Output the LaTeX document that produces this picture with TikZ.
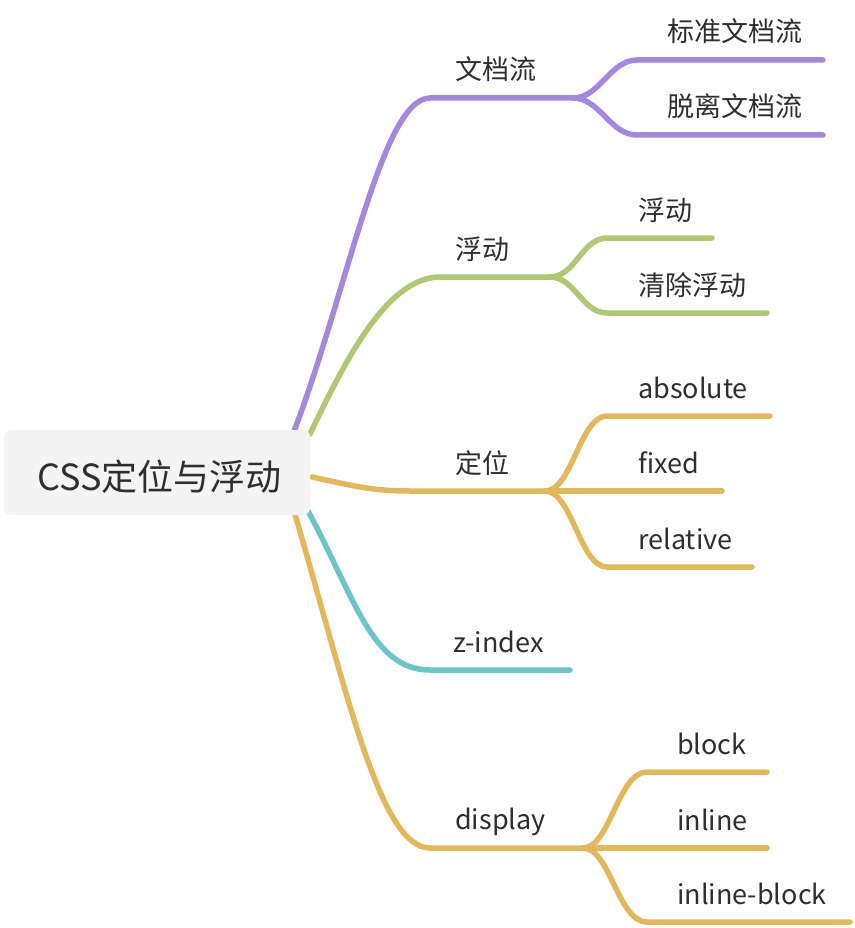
\documentclass[tikz,border=0pt]{standalone}
\usepackage{fontspec}
\setmainfont{Noto Sans CJK SC}
\definecolor{cpurple}{HTML}{A587E0}
\definecolor{cgreen}{HTML}{AEC873}
\definecolor{cgold}{HTML}{E2B85B}
\definecolor{cteal}{HTML}{6CC5C6}
\definecolor{ctext}{HTML}{2E2E2E}
\definecolor{cbox}{HTML}{F4F4F4}
\pgfdeclarelayer{background}
\pgfsetlayers{background,main}
\tikzset{
  lbl/.style={anchor=base west,inner sep=0pt,text=ctext,font=\fontsize{27}{30}\selectfont},
  br/.style={line width=5.5pt,line cap=round,line join=round},
  rootbox/.style={fill=cbox,rounded corners=7pt,inner sep=0pt,minimum width=306pt,minimum height=85pt}
}
\begin{document}
\begin{tikzpicture}[x=1pt,y=-1pt]
\useasboundingbox (0,0) rectangle (854,928);
% root
\node[rootbox] (root) at (157,472.5) {};
\node[anchor=base west,inner sep=0pt,text=ctext,font=\fontsize{36}{40}\selectfont] (roott) at (37,490) {CSS定位与浮动};
% labels
\node[lbl] (wdl) at (455,80) {文档流};
\node[lbl] (bz) at (667,42) {标准文档流};
\node[lbl] (tl) at (667,117) {脱离文档流};
\node[lbl] (fd) at (455,259) {浮动};
\node[lbl] (fd2) at (638,220) {浮动};
\node[lbl] (qc) at (638,295) {清除浮动};
\node[lbl] (dw) at (455,473) {定位};
\node[lbl] (abs) at (638,398) {absolute};
\node[lbl] (fix) at (638,473) {fixed};
\node[lbl] (rel) at (638,549) {relative};
\node[lbl] (zi) at (453,652) {z-index};
\node[lbl] (dis) at (455,829) {display};
\node[lbl] (blk) at (677,754) {block};
\node[lbl] (inl) at (677,830) {inline};
\node[lbl] (ib) at (677,904) {inline-block};
% coordinates
\coordinate (sP) at (293,434);
\coordinate (sG) at (310,434);
\coordinate (sD) at (312,477);
\coordinate (sT) at (308,511);
\coordinate (sY) at (294,511);
\coordinate (hP) at (430,98);
\coordinate (fP) at (573,98);
\coordinate (p1a) at (637,60);  \coordinate (p1b) at (823,60);
\coordinate (p2a) at (637,135); \coordinate (p2b) at (823,135);
\coordinate (hG) at (440,277);
\coordinate (fG) at (550,277);
\coordinate (g1a) at (607,238); \coordinate (g1b) at (712,238);
\coordinate (g2a) at (607,313); \coordinate (g2b) at (767,313);
\coordinate (hD) at (410,491);
\coordinate (fD) at (545,491);
\coordinate (d1a) at (607,416); \coordinate (d1b) at (770,416);
\coordinate (d2b) at (722,491);
\coordinate (d3a) at (607,567); \coordinate (d3b) at (752,567);
\coordinate (hT) at (430,670);
\coordinate (eT) at (570,670);
\coordinate (hY) at (430,848);
\coordinate (fY) at (583,848);
\coordinate (y1a) at (647,772); \coordinate (y1b) at (767,772);
\coordinate (y2b) at (767,848);
\coordinate (y3a) at (647,922); \coordinate (y3b) at (850,922);
\begin{pgfonlayer}{background}
% purple
\draw[br,cpurple] (sP) .. controls (348,290) and (382,98) .. (hP) -- (fP);
\draw[br,cpurple] (fP) .. controls (600,98) and (610,60) .. (p1a) -- (p1b);
\draw[br,cpurple] (fP) .. controls (600,98) and (610,135) .. (p2a) -- (p2b);
% green
\draw[br,cgreen] (sG) .. controls (342,368) and (385,277) .. (hG) -- (fG);
\draw[br,cgreen] (fG) .. controls (575,277) and (582,238) .. (g1a) -- (g1b);
\draw[br,cgreen] (fG) .. controls (575,277) and (582,313) .. (g2a) -- (g2b);
% gold dingwei
\draw[br,cgold] (sD) .. controls (350,485) and (370,491) .. (hD) -- (fD);
\draw[br,cgold] (fD) .. controls (572,491) and (580,416) .. (d1a) -- (d1b);
\draw[br,cgold] (fD) -- (d2b);
\draw[br,cgold] (fD) .. controls (572,491) and (580,567) .. (d3a) -- (d3b);
% teal
\draw[br,cteal] (sT) .. controls (355,598) and (372,670) .. (hT) -- (eT);
% gold display
\draw[br,cgold] (sY) .. controls (348,695) and (380,848) .. (hY) -- (fY);
\draw[br,cgold] (fY) .. controls (610,848) and (618,772) .. (y1a) -- (y1b);
\draw[br,cgold] (fY) -- (y2b);
\draw[br,cgold] (fY) .. controls (610,848) and (618,922) .. (y3a) -- (y3b);
\end{pgfonlayer}
\end{tikzpicture}
\end{document}
